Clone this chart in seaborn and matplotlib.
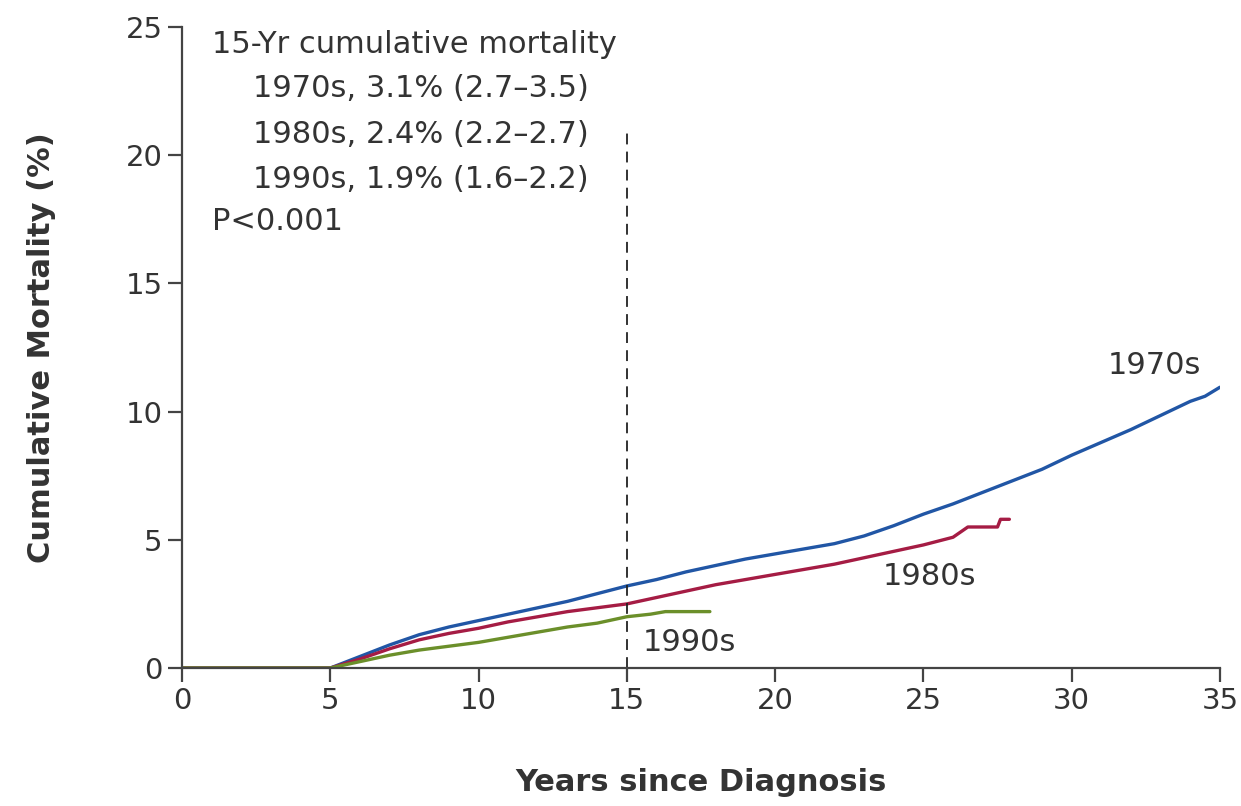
import numpy as np
import pandas as pd
import matplotlib
matplotlib.use("Agg")
import matplotlib.pyplot as plt
import seaborn as sns

# values (years since diagnosis, cumulative mortality %)
years_1970s = [0, 5, 6, 7, 8, 9, 10, 11, 12, 13, 14, 15, 16, 17, 18, 19, 20, 21, 22, 23,
               24, 25, 26, 27, 28, 29, 30, 31, 32, 33, 34, 34.5, 35]
mort_1970s = [0, 0, 0.45, 0.9, 1.3, 1.6, 1.85, 2.1, 2.35, 2.6, 2.9, 3.2, 3.45, 3.75, 4.0, 4.25,
              4.45, 4.65, 4.85, 5.15, 5.55, 6.0, 6.4, 6.85, 7.3, 7.75, 8.3, 8.8, 9.3, 9.85,
              10.4, 10.6, 10.95]

years_1980s = [0, 5, 6, 7, 8, 9, 10, 11, 12, 13, 14, 15, 16, 17, 18, 19, 20, 21, 22, 23,
               24, 25, 26, 26.5, 27.5, 27.6, 27.9]
mort_1980s = [0, 0, 0.35, 0.75, 1.1, 1.35, 1.55, 1.8, 2.0, 2.2, 2.35, 2.5, 2.75, 3.0, 3.25,
              3.45, 3.65, 3.85, 4.05, 4.3, 4.55, 4.8, 5.1, 5.5, 5.5, 5.8, 5.8]

years_1990s = [0, 5, 6, 7, 8, 9, 10, 11, 12, 13, 14, 15, 15.8, 16.3, 17.8]
mort_1990s = [0, 0, 0.25, 0.5, 0.7, 0.85, 1.0, 1.2, 1.4, 1.6, 1.75, 2.0, 2.1, 2.2, 2.2]

decades = ["1970s", "1980s", "1990s"]
colors = {"1970s": "#2156a5", "1980s": "#a51c44", "1990s": "#6b8f2a"}

summary_lines = ["1970s, 3.1% (2.7\u20133.5)",
                 "1980s, 2.4% (2.2\u20132.7)",
                 "1990s, 1.9% (1.6\u20132.2)"]

df = pd.concat([
    pd.DataFrame({"years": years_1970s, "mort": mort_1970s, "decade": "1970s"}),
    pd.DataFrame({"years": years_1980s, "mort": mort_1980s, "decade": "1980s"}),
    pd.DataFrame({"years": years_1990s, "mort": mort_1990s, "decade": "1990s"}),
], ignore_index=True)

sns.set_style("ticks")
plt.rcParams['font.family'] = ['DejaVu Sans']
txt = "#333333"

fig = plt.figure(figsize=(12.41, 8.06), dpi=100)
ax = fig.add_axes([0.1467, 0.1712, 0.8363, 0.7953])

sns.lineplot(data=df, x="years", y="mort", hue="decade", hue_order=decades,
             palette=colors, estimator=None, sort=False, linewidth=2.4,
             legend=False, ax=ax)

# 15-year reference line
ax.plot([15, 15], [0, 21], color="#222222", lw=1.3, ls=(0, (6, 4)))

ax.set_xlim(0, 35)
ax.set_ylim(0, 25)
ax.set_xticks(range(0, 36, 5))
ax.set_yticks(range(0, 26, 5))
ax.margins(0)
sns.despine(ax=ax)
for s in ["left", "bottom"]:
    ax.spines[s].set_color("#444444")
    ax.spines[s].set_linewidth(1.6)
ax.tick_params(axis="both", colors="#444444", labelcolor=txt, labelsize=21,
               width=1.6, length=10, pad=4)

ax.set_xlabel("Years since Diagnosis", fontsize=22, fontweight="bold", color=txt, labelpad=38)
ax.set_ylabel("Cumulative Mortality (%)", fontsize=22, fontweight="bold", color=txt, labelpad=50)

# annotation block
fs = 22
ax.text(1.0, 24.3, "15-Yr cumulative mortality", fontsize=fs, color=txt, va="center")
for i, line in enumerate(summary_lines):
    ax.text(2.4, 22.6 - i * 1.78, line, fontsize=fs, color=txt, va="center")
ax.text(1.0, 17.4, "P<0.001", fontsize=fs, color=txt, va="center")

# series labels
ax.text(32.8, 11.8, "1970s", fontsize=fs, color=txt, ha="center", va="center")
ax.text(25.2, 3.55, "1980s", fontsize=fs, color=txt, ha="center", va="center")
ax.text(17.1, 1.0, "1990s", fontsize=fs, color=txt, ha="center", va="center")

fig.savefig("out.png", dpi=100)
